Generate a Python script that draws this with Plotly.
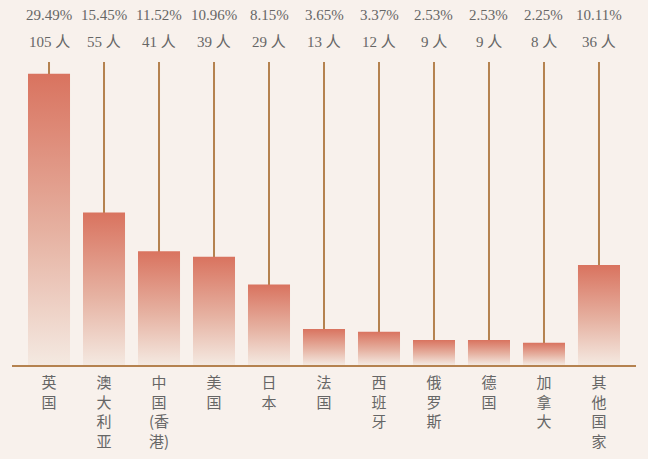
import plotly.graph_objects as go

countries = ["英国", "澳大利亚", "中国(香港)", "美国", "日本", "法国", "西班牙", "俄罗斯", "德国", "加拿大", "其他国家"]
counts = [105, 55, 41, 39, 29, 13, 12, 9, 9, 8, 36]
percents = ["29.49%", "15.45%", "11.52%", "10.96%", "8.15%", "3.65%", "3.37%", "2.53%", "2.53%", "2.25%", "10.11%"]

BG = "#f8f1ec"
LINE = "#b5824f"
TEXT = "#666666"
half = 0.382
ymax = max(counts) * 1.04

fig = go.Figure()

# stems behind the bars
sx, sy = [], []
for i in range(len(countries)):
    sx += [i, i, None]
    sy += [0, ymax, None]
fig.add_trace(go.Scatter(x=sx, y=sy, mode="lines", line=dict(color=LINE, width=2),
                         hoverinfo="skip", showlegend=False))

# gradient bars
for i, v in enumerate(counts):
    fig.add_trace(go.Scatter(
        x=[i - half, i + half, i + half, i - half, i - half],
        y=[0, 0, v, v, 0],
        mode="lines", line=dict(width=0), fill="toself",
        fillgradient=dict(type="vertical",
                          colorscale=[[0, "#f4e9e1"], [0.45, "#e6b2a2"], [1, "#d9735f"]]),
        hovertemplate=f"{countries[i]}: {v}人<extra></extra>", showlegend=False))

for i, (p, c) in enumerate(zip(percents, counts)):
    fig.add_annotation(x=i, y=1.155, xref="x", yref="paper", text=p, showarrow=False,
                       font=dict(family="Liberation Serif, Noto Sans CJK SC", size=15, color=TEXT),
                       yanchor="middle")
    fig.add_annotation(x=i, y=1.066, xref="x", yref="paper", text=f"{c} 人", showarrow=False,
                       font=dict(family="Liberation Serif, Noto Sans CJK SC", size=15, color=TEXT),
                       yanchor="middle")


def stack(name):
    # one character per line; keep brackets attached to their neighbours
    lines = []
    for ch in name:
        if lines and ch == ")":
            lines[-1] += ch
        elif lines and lines[-1] == "(":
            lines[-1] += ch
        else:
            lines.append(ch)
    return "<br>".join(lines)


ticktext = [stack(name) for name in countries]

fig.update_layout(
    width=648, height=459,
    margin=dict(l=12, r=12, t=62, b=94, autoexpand=False),
    paper_bgcolor=BG, plot_bgcolor=BG,
    xaxis=dict(range=[-0.673, 10.673], tickmode="array", tickvals=list(range(len(countries))),
               ticktext=ticktext, showgrid=False, zeroline=False, showline=True,
               linecolor=LINE, linewidth=2, ticks="", automargin=False, ticklabelstandoff=3,
               tickfont=dict(family="Noto Sans CJK SC", size=15, color=TEXT)),
    yaxis=dict(range=[0, ymax], visible=False, showgrid=False, zeroline=False, automargin=False),
)

fig.write_html("out.html", config={"displayModeBar": False},
               post_script="document.body.style.margin='0px';document.body.style.overflow='hidden';")
